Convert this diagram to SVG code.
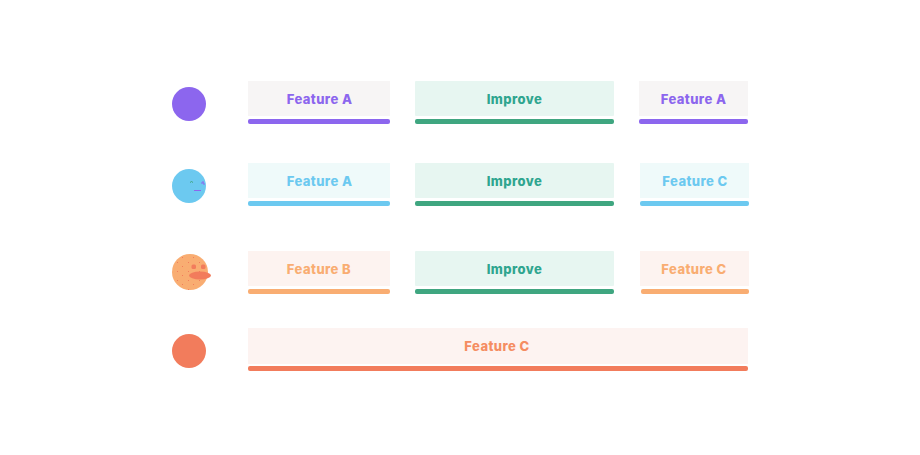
<svg xmlns="http://www.w3.org/2000/svg" width="920" height="455" viewBox="0 0 920 455">
<style>
text{font-family:"Inter","Liberation Sans",sans-serif;font-weight:800;font-size:13px;letter-spacing:.42px;text-anchor:middle}
.p{fill:#8c66ee}.b{fill:#6cc9f0}.o{fill:#f9ad72}.r{fill:#f27c5c}.g{fill:#3fa680}
.tg{fill:#2fa58f}.tr{fill:#f58d62}
.bp{fill:#f7f5f5}.bb{fill:#effafa}.bo{fill:#fdf3f0}.bg{fill:#e7f6f1}.br{fill:#fdf3f1}
</style>
<defs>
<pattern id="speck" width="11" height="9" patternUnits="userSpaceOnUse"><rect x="1" y="1" width="1" height="1" fill="#f27c5c"/><rect x="6" y="5" width="1" height="1" fill="#f27c5c"/></pattern>
</defs>
<rect width="920" height="455" fill="#fff"/>
<g id="row1-marker"><circle class="p" cx="189" cy="104" r="17"/></g>
<g id="row1-a"><rect class="bp" x="248" y="81" width="142" height="35"/><rect class="p" x="248" y="119" width="142" height="5" rx="2"/><text class="p" x="319.500" y="104">Feature A</text></g>
<g id="row1-b"><rect class="bg" x="415" y="81" width="199" height="35" rx="1"/><rect class="g" x="415" y="119" width="199" height="5" rx="2"/><text class="tg" x="514.500" y="104">Improve</text></g>
<g id="row1-c"><rect class="bp" x="639" y="81" width="109" height="35"/><rect class="p" x="639" y="119" width="109" height="5" rx="2"/><text class="p" x="693.500" y="104">Feature A</text></g>
<g id="row2-marker"><circle class="b" cx="189" cy="186" r="17"/><path d="M190 182.500q1.500-2 3 0" fill="none" stroke="#3fa680" stroke-width="1"/><path d="M201 183h3v2M203 181v2" fill="none" stroke="#8c66ee" stroke-width="1"/><rect x="194" y="190" width="7" height="1" fill="#8c66ee"/></g>
<g id="row2-a"><rect class="bb" x="248" y="163" width="142" height="35"/><rect class="b" x="248" y="201" width="142" height="5" rx="2"/><text class="b" x="319.500" y="186">Feature A</text></g>
<g id="row2-b"><rect class="bg" x="415" y="163" width="199" height="35" rx="1"/><rect class="g" x="415" y="201" width="199" height="5" rx="2"/><text class="tg" x="514.500" y="186">Improve</text></g>
<g id="row2-c"><rect class="bb" x="640" y="163" width="109" height="35"/><rect class="b" x="640" y="201" width="109" height="5" rx="2"/><text class="b" x="695" y="186">Feature C</text></g>
<g id="row3-marker"><circle class="o" cx="190" cy="272" r="18"/><circle cx="190" cy="272" r="18" fill="url(#speck)"/><rect class="r" x="191.500" y="264.500" width="4.500" height="4.500" rx="1.500"/><rect class="r" x="201" y="264.500" width="4.500" height="4.500" rx="1.500"/><ellipse class="r" cx="200" cy="275.500" rx="11" ry="4"/></g>
<g id="row3-a"><rect class="bo" x="248" y="251" width="142" height="35"/><rect class="o" x="248" y="289" width="142" height="5" rx="2"/><text class="o" x="319" y="274">Feature B</text></g>
<g id="row3-b"><rect class="bg" x="415" y="251" width="199" height="35" rx="1"/><rect class="g" x="415" y="289" width="199" height="5" rx="2"/><text class="tg" x="514.500" y="274">Improve</text></g>
<g id="row3-c"><rect class="bo" x="640" y="251" width="109" height="35"/><rect class="o" x="641" y="289" width="108" height="5" rx="2"/><text class="o" x="694" y="274">Feature C</text></g>
<g id="row4-marker"><circle class="r" cx="189" cy="351" r="17"/></g>
<g id="row4-a"><rect class="br" x="248" y="328" width="500" height="36"/><rect class="r" x="248" y="366" width="500" height="5" rx="2"/><text class="tr" x="497" y="351">Feature C</text></g>
</svg>
